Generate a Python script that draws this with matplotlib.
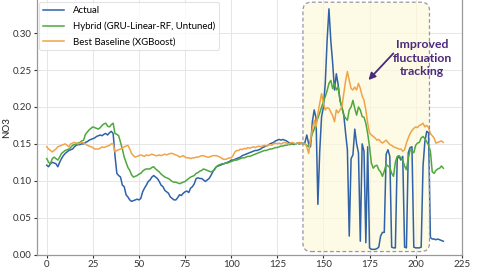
import matplotlib
matplotlib.use("Agg")
import matplotlib.pyplot as plt
from matplotlib.patches import FancyBboxPatch
import numpy as np

plt.rcParams['font.family'] = ['Lato', 'DejaVu Sans']

actual = [
 .121,.119,.123,.125,.124,.123,.119,.125,.130,.134,
 .137,.139,.141,.142,.143,.146,.148,.149,.149,.150,
 .150,.152,.153,.155,.156,.157,.158,.160,.161,.162,
 .161,.163,.164,.162,.165,.167,.164,.134,.110,.107,
 .105,.094,.092,.081,.078,.074,.072,.073,.074,.075,
 .074,.076,.085,.090,.094,.099,.101,.105,.107,.105,
 .103,.099,.094,.092,.087,.085,.083,.078,.076,.074,
 .074,.077,.081,.080,.083,.085,.086,.084,.090,.092,
 .096,.103,.104,.103,.103,.101,.099,.101,.103,.107,
 .112,.116,.119,.120,.121,.122,.123,.124,.125,.126,
 .128,.128,.129,.130,.131,.132,.134,.135,.136,.137,
 .138,.139,.140,.141,.141,.142,.143,.145,.146,.147,
 .148,.150,.151,.152,.154,.155,.156,.155,.156,.155,
 .154,.152,.151,.150,.149,.150,.151,.150,.151,.150,
 .152,.162,.150,.146,.180,.196,.185,.068,.140,.187,
 .200,.232,.290,.333,.290,.260,.223,.245,.230,.209,
 .200,.190,.165,.142,.025,.130,.135,.170,.150,.138,
 .018,.150,.140,.016,.146,.009,.007,.007,.007,.008,
 .010,.025,.030,.030,.136,.142,.133,.010,.009,.009,
 .130,.133,.128,.133,.010,.009,.138,.145,.146,.010,
 .009,.009,.009,.010,.120,.153,.167,.165,.023,.021,
 .021,.020,.021,.020,.019,.018]

hybrid = [
 .130,.125,.123,.130,.132,.130,.128,.132,.137,.139,
 .141,.142,.143,.145,.148,.149,.150,.151,.152,.154,
 .155,.163,.166,.169,.171,.173,.172,.171,.170,.172,
 .175,.177,.178,.174,.173,.176,.178,.164,.163,.161,
 .152,.143,.132,.125,.118,.114,.108,.105,.106,.107,
 .109,.110,.113,.115,.116,.116,.116,.118,.119,.116,
 .114,.112,.109,.107,.105,.104,.103,.101,.099,.098,
 .098,.097,.096,.097,.098,.099,.101,.103,.105,.106,
 .107,.110,.111,.113,.114,.116,.115,.114,.113,.112,
 .113,.115,.119,.121,.122,.123,.123,.124,.124,.125,
 .126,.127,.128,.128,.129,.130,.131,.131,.132,.133,
 .133,.134,.135,.136,.137,.138,.139,.140,.141,.141,
 .142,.143,.143,.144,.145,.145,.146,.147,.147,.148,
 .148,.149,.149,.150,.150,.150,.151,.150,.151,.150,
 .150,.148,.146,.155,.164,.170,.178,.185,.192,.200,
 .207,.214,.222,.232,.236,.225,.232,.223,.227,.209,
 .199,.189,.185,.182,.196,.200,.209,.198,.189,.200,
 .196,.187,.186,.178,.164,.146,.124,.117,.120,.121,
 .115,.112,.106,.113,.122,.120,.118,.110,.106,.125,
 .133,.134,.131,.128,.120,.115,.130,.142,.140,.138,
 .148,.151,.152,.158,.160,.157,.153,.148,.140,.112,
 .110,.114,.116,.117,.120,.117]

baseline = [
 .146,.143,.141,.139,.141,.143,.146,.147,.148,.149,
 .150,.148,.146,.150,.151,.152,.151,.150,.151,.152,
 .151,.150,.148,.147,.146,.145,.143,.143,.143,.144,
 .146,.145,.146,.147,.148,.150,.150,.139,.141,.142,
 .143,.144,.146,.147,.148,.143,.137,.134,.132,.133,
 .134,.135,.134,.133,.135,.134,.135,.136,.135,.134,
 .134,.135,.134,.135,.136,.135,.136,.137,.137,.136,
 .135,.134,.132,.133,.134,.132,.131,.131,.130,.131,
 .131,.132,.132,.133,.134,.134,.133,.132,.132,.133,
 .134,.134,.134,.133,.132,.130,.129,.129,.130,.131,
 .131,.134,.139,.141,.141,.143,.142,.144,.143,.145,
 .144,.145,.146,.145,.146,.147,.146,.147,.148,.147,
 .148,.149,.148,.150,.151,.150,.151,.150,.151,.152,
 .151,.150,.151,.152,.151,.150,.151,.152,.150,.151,
 .150,.146,.137,.155,.170,.182,.173,.191,.205,.218,
 .205,.196,.199,.198,.193,.188,.180,.196,.192,.196,
 .200,.218,.235,.248,.236,.225,.223,.227,.223,.232,
 .225,.215,.209,.196,.178,.165,.162,.160,.158,.155,
 .156,.153,.151,.153,.155,.152,.149,.148,.146,.145,
 .144,.143,.143,.140,.142,.151,.158,.164,.168,.171,
 .173,.172,.175,.176,.178,.173,.175,.172,.164,.161,
 .158,.151,.152,.153,.154,.152]

x_ticks = [0, 25, 50, 75, 100, 125, 150, 175, 200, 225]
y_ticks = [0.00, 0.05, 0.10, 0.15, 0.20, 0.25, 0.30]
labels = ['Actual', 'Hybrid (GRU-Linear-RF, Untuned)', 'Best Baseline (XGBoost)']
colors = ['#2f62a8', '#4fa83d', '#f0a448']

fig = plt.figure(figsize=(4.8, 2.7), dpi=100)
ax = fig.add_axes([0.077, 0.0574, 0.885, 0.9426])

for series, lab, col in zip([actual, hybrid, baseline], labels, colors):
    ax.plot(np.arange(len(series)), series, color=col, lw=1.1, label=lab, zorder=3)

ax.set_xlim(-5.3, 225)
ax.set_ylim(0, 0.345)
ax.set_xticks(x_ticks)
ax.set_yticks(y_ticks)
ax.set_yticklabels([f'{v:.2f}' for v in y_ticks])
ax.tick_params(labelsize=7, colors='#333333', length=2.5, width=0.8, pad=1.5)
ax.grid(True, color='#e6e6e6', lw=0.7, zorder=0)
ax.set_axisbelow(True)
for s in ['left', 'bottom', 'right']:
    ax.spines[s].set_color('#999999')
    ax.spines[s].set_linewidth(0.9)
ax.spines['top'].set_visible(False)
ax.set_ylabel('NO3', fontsize=7, color='#222222')
ax.yaxis.set_label_coords(-0.061, 0.5)

# highlight region
x0, x1, y0, y1 = 138.9, 207.5, 0.004, 0.342
aspect = (0.345 / 254.5) / (230.3 / 424.7)
box = FancyBboxPatch((x0, y0), x1 - x0, y1 - y0,
                     boxstyle='round,pad=0,rounding_size=4.5',
                     mutation_aspect=aspect,
                     facecolor='#fdf8da', alpha=0.7, edgecolor='none', zorder=1)
ax.add_patch(box)
box2 = FancyBboxPatch((x0, y0), x1 - x0, y1 - y0,
                      boxstyle='round,pad=0,rounding_size=4.5',
                      mutation_aspect=aspect,
                      facecolor='none', edgecolor='#9b93a8', lw=0.9,
                      linestyle=(0, (3, 2)), zorder=4)
ax.add_patch(box2)

ax.annotate('', xy=(174.4, 0.2365), xytext=(187.9, 0.2726),
            arrowprops=dict(arrowstyle='-|>', color='#4b2a7c', lw=1.3,
                            mutation_scale=10, shrinkA=0, shrinkB=0), zorder=5)
ax.text(203.5, 0.266, 'Improved\nfluctuation\ntracking', ha='center', va='center',
        fontsize=8.8, fontweight='bold', color='#4b2a7c', linespacing=1.3, zorder=5)

leg = ax.legend(loc='upper left', fontsize=6.9, frameon=True, handlelength=2.2,
                borderaxespad=0.25, labelspacing=0.65, borderpad=0.4,
                handletextpad=0.9, fancybox=True)
leg.get_frame().set_edgecolor('#dddddd')
leg.get_frame().set_linewidth(0.8)

fig.savefig('out.png', dpi=100)
